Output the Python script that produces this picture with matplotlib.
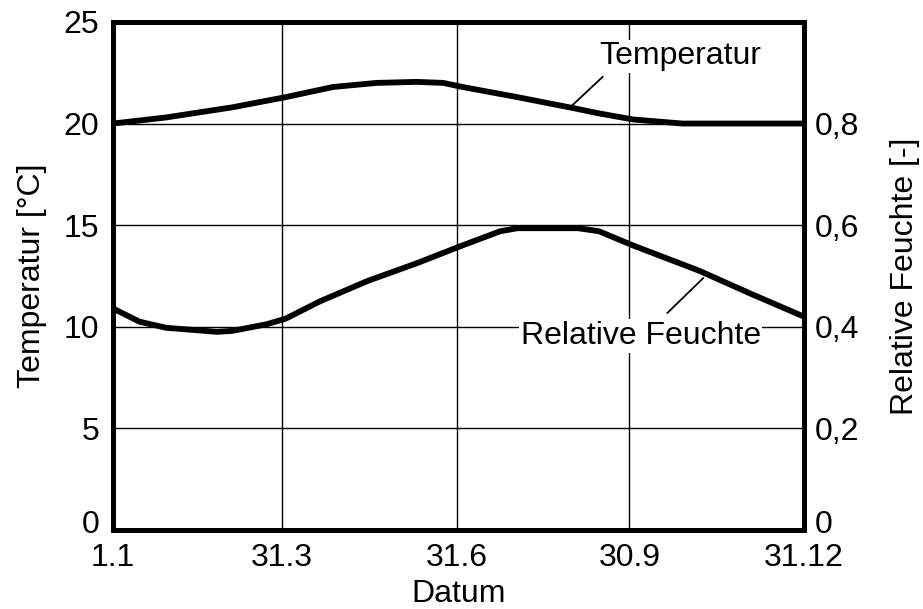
import numpy as np
import matplotlib
matplotlib.use("Agg")
import matplotlib.pyplot as plt
import matplotlib.transforms as mtransforms

plt.rcParams["font.family"] = ["Liberation Sans", "DejaVu Sans"]

# x positions as day of year
tick_days = [0, 89, 181, 272, 364]
tick_labels = ["1.1", "31.3", "31.6", "30.9", "31.12"]

# temperature [°C]
temp_days = [0, 28, 63, 91, 116, 139, 160, 174, 184, 213, 243, 256, 274, 300, 330, 364]
temp_vals = [20.0, 20.3, 20.8, 21.3, 21.8, 22.0, 22.05, 22.0, 21.8, 21.3, 20.75, 20.5, 20.2, 20.0, 20.0, 20.0]

# relative humidity [-]
rh_days = [0, 14, 28, 55, 63, 81, 91, 109, 134, 160, 184, 204, 213, 245, 256, 274, 309, 336, 364]
rh_vals = [0.436, 0.41, 0.398, 0.39, 0.392, 0.405, 0.416, 0.45, 0.49, 0.525, 0.56, 0.588, 0.594, 0.594, 0.588, 0.56, 0.51, 0.465, 0.42]

FS = 23

fig = plt.figure(figsize=(9.23, 6.09), dpi=100)
ax = fig.add_axes([0.1224, 0.1297, 0.871 - 0.1224, 0.964 - 0.1297])
ax2 = ax.twinx()

ax.plot(temp_days, temp_vals, color="black", lw=4.2, solid_capstyle="butt", zorder=3)
ax2.plot(rh_days, rh_vals, color="black", lw=4.2, solid_capstyle="butt", zorder=3)

ax.set_xlim(0, 364)
ax.set_ylim(0, 25)
ax2.set_ylim(0, 1)

ax.set_xticks(tick_days)
ax.set_xticklabels(tick_labels)
ax.set_yticks([0, 5, 10, 15, 20, 25])
ax2.set_yticks([0, 0.2, 0.4, 0.6, 0.8])
ax2.set_yticklabels(["0", "0,2", "0,4", "0,6", "0,8"])

ax.grid(True, color="black", lw=1.0)
ax.set_axisbelow(True)

for a in (ax, ax2):
    a.tick_params(length=0, labelsize=FS)
    for s in a.spines.values():
        s.set_linewidth(3.6)
ax.tick_params(axis="y", pad=10)
ax.tick_params(axis="x", pad=9)
ax2.tick_params(axis="y", pad=8)

# lift both "0" labels a bit, like in the original
lift = mtransforms.ScaledTranslation(0, 6 / 72, fig.dpi_scale_trans)
for lab in (ax.get_yticklabels()[0], ax2.get_yticklabels()[0]):
    lab.set_transform(lab.get_transform() + lift)

ax.set_xlabel("Datum", fontsize=FS, labelpad=5)
ax.set_ylabel("Temperatur [°C]", fontsize=FS, labelpad=12)
ax2.set_ylabel("Relative Feuchte [-]", fontsize=FS, labelpad=22)

# annotations with leader lines
ax.text(299, 23.3, "Temperatur", fontsize=FS, ha="center", va="center",
        bbox=dict(boxstyle="square,pad=0.05", fc="white", ec="none"), zorder=4)
ax.annotate("", xy=(242, 20.9), xytext=(258, 22.3),
            arrowprops=dict(arrowstyle="-", color="black", lw=1.3, shrinkA=0, shrinkB=0),
            zorder=4)
ax2.text(278, 0.382, "Relative Feuchte", fontsize=FS, ha="center", va="center",
         bbox=dict(boxstyle="square,pad=0.05", fc="white", ec="none"), zorder=4)
ax2.annotate("", xy=(311, 0.496), xytext=(292, 0.427),
             arrowprops=dict(arrowstyle="-", color="black", lw=1.3, shrinkA=0, shrinkB=0),
             zorder=4)

fig.savefig("out.png", dpi=100)
